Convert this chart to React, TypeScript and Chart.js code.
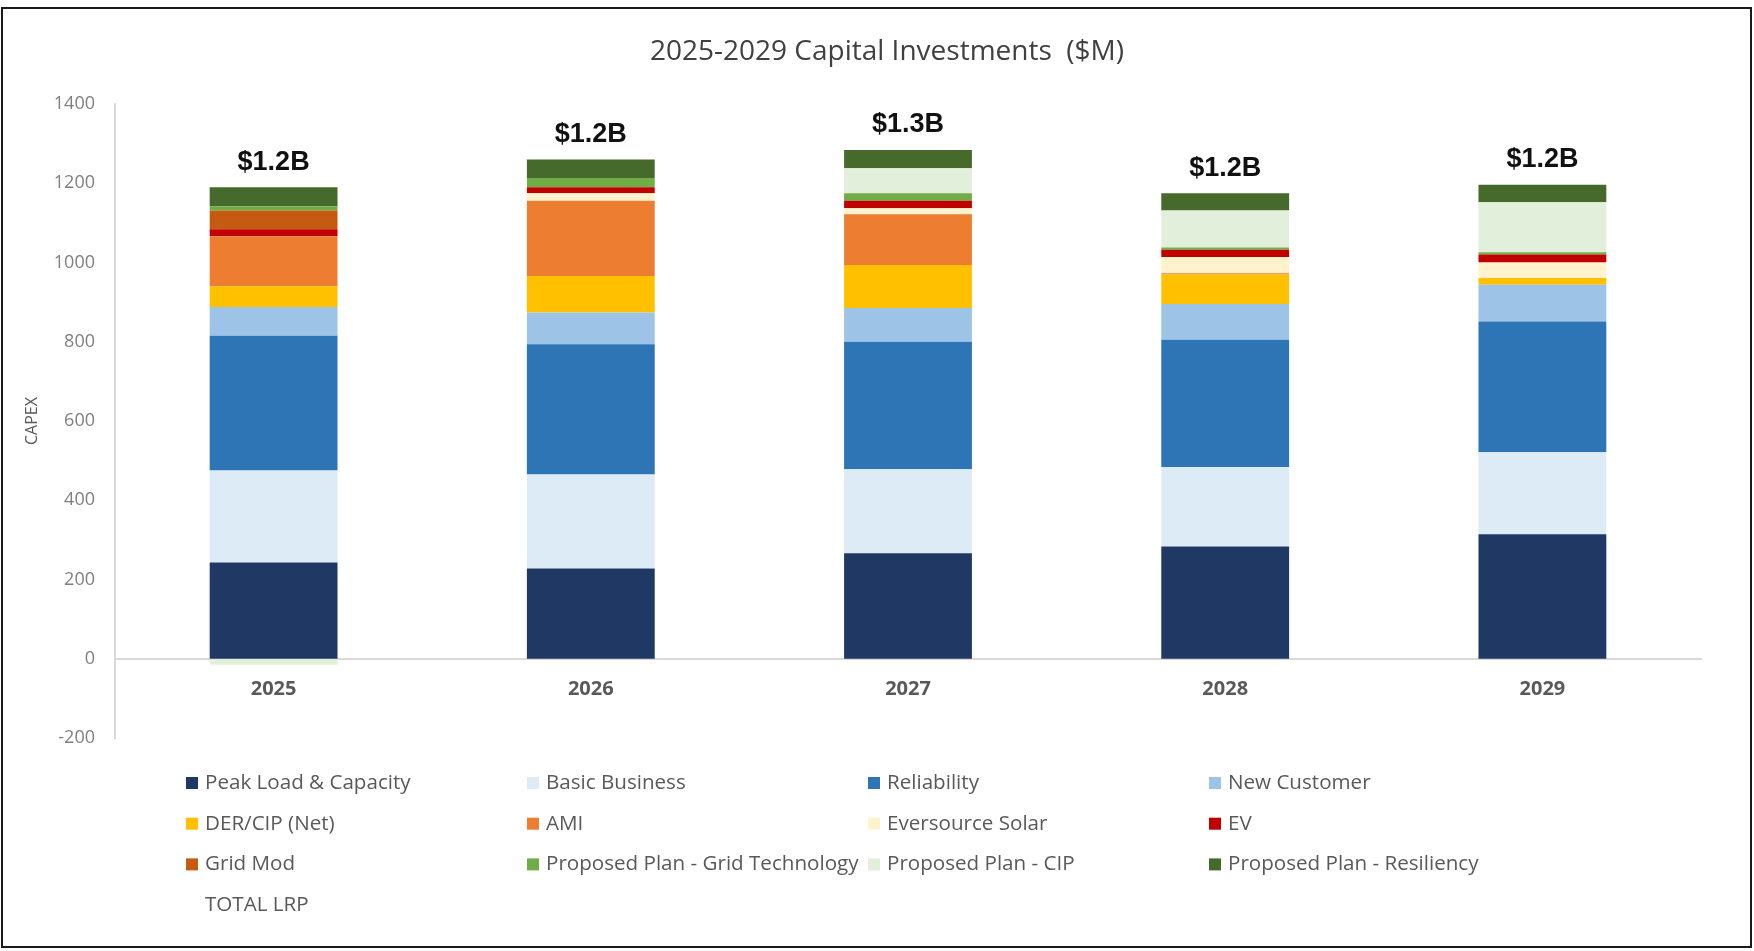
import React, { useEffect, useRef } from "react";
import { Chart, registerables } from "chart.js";

Chart.register(...registerables);

// ---------- data ----------
const categories = ["2025", "2026", "2027", "2028", "2029"];

const peakLoad = [243, 228, 266, 283, 314];
const basicBusiness = [232, 237, 212, 201, 207];
const reliability = [340, 329, 322, 321, 330];
const newCustomer = [73, 80, 85, 90, 93];
const derCip = [52, 92, 109, 75, 17];
const ami = [126, 190, 128, 3, 0];
const eversourceSolar = [0, 19, 15, 41, 39];
const ev = [18, 15, 19, 18, 20];
const gridMod = [47, 0, 0, 0, 0];
const gridTech = [11, 23, 19, 6, 6];
const proposedCip = [-15, 0, 63, 93, 126];
const resiliency = [48, 47, 46, 44, 44];
const totalLrp = [1190, 1260, 1284, 1175, 1196];
const totalLabels = ["$1.2B", "$1.2B", "$1.3B", "$1.2B", "$1.2B"];

const seriesNames = [
  "Peak Load & Capacity",
  "Basic Business",
  "Reliability",
  "New Customer",
  "DER/CIP (Net)",
  "AMI",
  "Eversource Solar",
  "EV",
  "Grid Mod",
  "Proposed Plan - Grid Technology",
  "Proposed Plan - CIP",
  "Proposed Plan - Resiliency",
];
const seriesValues = [
  peakLoad,
  basicBusiness,
  reliability,
  newCustomer,
  derCip,
  ami,
  eversourceSolar,
  ev,
  gridMod,
  gridTech,
  proposedCip,
  resiliency,
];
const seriesColors = [
  "#203864",
  "#DDEBF7",
  "#2E75B6",
  "#9DC3E6",
  "#FFC000",
  "#ED7D31",
  "#FFF2CC",
  "#C00000",
  "#C55A11",
  "#70AD47",
  "#E2EFDA",
  "#456A2C",
];
const totalName = "TOTAL LRP";
const chartTitle = "2025-2029 Capital Investments  ($M)";
const yAxisTitle = "CAPEX";
const yMin = -200;
const yMax = 1400;
const yStep = 200;

// ---------- plugins ----------
const titlePlugin = {
  id: "customTitle",
  afterDraw(chart: any) {
    const ctx = chart.ctx;
    ctx.save();
    ctx.font = '28px "Open Sans"';
    ctx.fillStyle = "#404040";
    ctx.textAlign = "center";
    ctx.textBaseline = "middle";
    ctx.fillText(chartTitle, 887, 52);
    ctx.restore();
  },
};

const totalLabelPlugin = {
  id: "totalLabels",
  afterDatasetsDraw(chart: any) {
    const idx = chart.data.datasets.findIndex((d: any) => d.label === totalName);
    if (idx < 0) return;
    const meta = chart.getDatasetMeta(idx);
    const ctx = chart.ctx;
    ctx.save();
    ctx.font = 'bold 27px "Liberation Sans"';
    ctx.fillStyle = "#111111";
    ctx.textAlign = "center";
    ctx.textBaseline = "middle";
    meta.data.forEach((el: any, i: number) => {
      ctx.fillText(totalLabels[i], el.x, el.y - 25);
    });
    ctx.restore();
  },
};

const gridLegendPlugin = {
  id: "gridLegend",
  afterDraw(chart: any) {
    const ctx = chart.ctx;
    const ds = chart.data.datasets;
    const x0 = 186;
    const dx = 341;
    const y0 = 783;
    const dy = 40.7;
    ctx.save();
    ctx.font = '20.6px "Open Sans"';
    ctx.textBaseline = "middle";
    ctx.textAlign = "left";
    ds.forEach((d: any, i: number) => {
      const col = i % 4;
      const row = Math.floor(i / 4);
      const x = x0 + col * dx;
      const y = y0 + row * dy;
      if (d.type !== "line") {
        ctx.fillStyle = d.backgroundColor;
        ctx.fillRect(x, y - 6, 12, 12);
      }
      ctx.fillStyle = "#595959";
      ctx.fillText(d.label, x + 19, y);
    });
    ctx.restore();
  },
};

export default function App() {
  const canvasRef = useRef<HTMLCanvasElement | null>(null);

  useEffect(() => {
    if (!canvasRef.current) return;
    const datasets: any[] = seriesNames.map((name, i) => ({
      type: "bar",
      label: name,
      data: seriesValues[i],
      backgroundColor: seriesColors[i],
      borderWidth: 0,
      stack: "capex",
      barPercentage: 0.403,
      categoryPercentage: 1,
    }));
    datasets.push({
      type: "line",
      label: totalName,
      data: totalLrp,
      showLine: false,
      pointRadius: 0,
      pointHoverRadius: 0,
      borderColor: "rgba(0,0,0,0)",
      backgroundColor: "rgba(0,0,0,0)",
      stack: "total",
    });

    const chart = new Chart(canvasRef.current, {
      type: "bar",
      data: { labels: categories, datasets },
      options: {
        animation: false,
        responsive: false,
        devicePixelRatio: 1,
        layout: { padding: { left: 0, right: 53, top: 104, bottom: 213 } },
        plugins: {
          legend: { display: false },
          title: { display: false },
          tooltip: { enabled: false },
        },
        scales: {
          x: {
            stacked: true,
            position: { y: 0 } as any,
            grid: { display: false, drawTicks: false },
            border: { display: true, color: "#D9D9D9", width: 2 },
            ticks: {
              font: { family: "Open Sans", size: 20, weight: "bold" },
              color: "#595959",
              padding: 19,
            },
          },
          y: {
            stacked: true,
            min: yMin,
            max: yMax,
            grid: { display: false, drawTicks: false },
            border: { display: true, color: "#D9D9D9", width: 2 },
            ticks: {
              stepSize: yStep,
              padding: 20,
              font: { family: "Open Sans", size: 18 },
              color: "#7F7F7F",
              callback: (v: any) => String(v),
            },
            title: {
              display: true,
              text: yAxisTitle,
              font: { family: "Open Sans", size: 16 },
              color: "#595959",
              padding: { top: 23, bottom: 0 },
            },
            afterFit: (s: any) => {
              s.width = 115;
            },
          },
        },
      } as any,
      plugins: [titlePlugin, totalLabelPlugin, gridLegendPlugin],
    });
    return () => chart.destroy();
  }, []);

  return (
    <div
      style={{
        position: "fixed",
        left: 0,
        top: 0,
        width: 1754,
        height: 951,
        background: "#ffffff",
      }}
    >
      <canvas
        ref={canvasRef}
        width={1754}
        height={951}
        style={{ position: "absolute", left: 0, top: 0, width: 1754, height: 951 }}
      />
      <div
        style={{
          position: "absolute",
          left: 1,
          top: 7,
          width: 1751,
          height: 941,
          border: "2px solid #1a1a1a",
          boxSizing: "border-box",
          pointerEvents: "none",
        }}
      />
    </div>
  );
}
